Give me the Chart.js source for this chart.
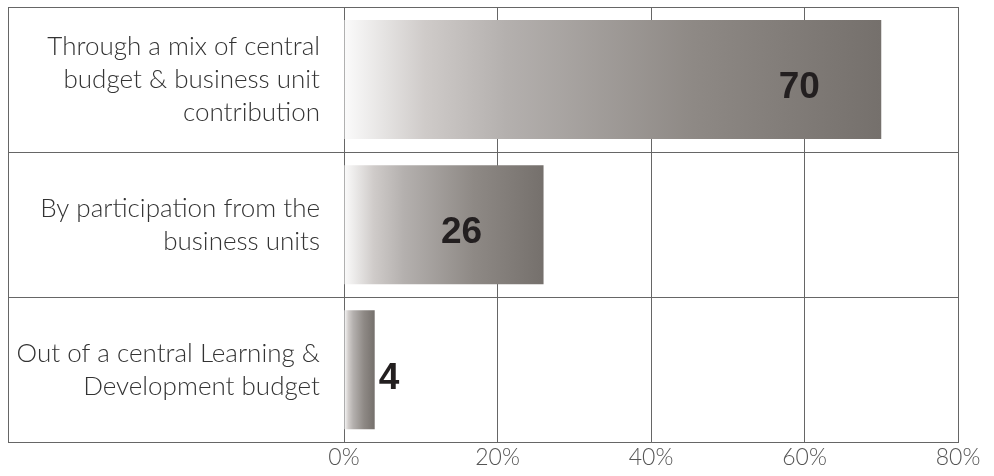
<!DOCTYPE html>
<html>
<head>
<meta charset="utf-8">
<script src="https://cdn.jsdelivr.net/npm/chart.js@4/dist/chart.umd.min.js"></script>
<style>
  html, body { margin: 0; padding: 0; background: #fff; }
  #wrap { width: 994px; height: 476px; }
</style>
</head>
<body>
<div id="wrap"><canvas id="funding"></canvas></div>
<script>

// categories (multi-line labels) and their shares in percent
const categories = [
    ['Through a mix of central', 'budget & business unit', 'contribution'],
    ['By participation from the', 'business units'],
    ['Out of a central Learning &', 'Development budget']
];
const shares = [70, 26, 4];
const axisMax = 80;
const axisStep = 20;

Chart.defaults.font.family = "Lato, 'Liberation Sans', Arial, sans-serif";

// grey fade from the zero line to the end of each bar
const barFill = (context) => {
    const chart = context.chart;
    if (!chart.chartArea || !chart.scales.x) return '#8e8985';
    const x = chart.scales.x;
    const x0 = x.getPixelForValue(0);
    const x1 = x.getPixelForValue(shares[context.dataIndex]);
    const g = chart.ctx.createLinearGradient(x0, 0, x1, 0);
    g.addColorStop(0, '#fbfbfb');
    g.addColorStop(0.15, '#cfcbc9');
    g.addColorStop(0.3, '#b4b0ae');
    g.addColorStop(0.65, '#8e8985');
    g.addColorStop(1, '#75706c');
    return g;
};

// frame edge on the left of the label column
const framePlugin = {
    id: 'frame',
    afterDraw(chart) {
        const { ctx, chartArea, scales } = chart;
        ctx.save();
        ctx.strokeStyle = '#666';
        ctx.lineWidth = 1;
        ctx.beginPath();
        ctx.moveTo(scales.y.left + 0.5, chartArea.top);
        ctx.lineTo(scales.y.left + 0.5, chartArea.bottom);
        ctx.stroke();
        ctx.restore();
    }
};

// the number sits 8 points short of the bar end, or just past it if the bar is too short
const valuePlugin = {
    id: 'values',
    afterDatasetsDraw(chart) {
        const { ctx } = chart;
        const xScale = chart.scales.x;
        const meta = chart.getDatasetMeta(0);
        ctx.save();
        ctx.font = "bold 37px 'Liberation Sans', Arial, sans-serif";
        ctx.fillStyle = '#231f20';
        ctx.textBaseline = 'middle';
        meta.data.forEach((bar, i) => {
            const v = shares[i];
            if (v > 8) {
                ctx.textAlign = 'right';
                ctx.fillText(String(v), xScale.getPixelForValue(v - 8), bar.y + 8);
            } else {
                ctx.textAlign = 'left';
                ctx.fillText(String(v), bar.x + 4, bar.y + 9);
            }
        });
        ctx.restore();
    }
};

const ctx = document.getElementById('funding').getContext('2d');
const chart = new Chart(ctx, {
    type: 'bar',
    data: {
        labels: categories,
        datasets: [{
            data: shares,
            backgroundColor: barFill,
            borderWidth: 0,
            barPercentage: 0.82,
            categoryPercentage: 1
        }]
    },
    options: {
        indexAxis: 'y',
        responsive: true,
        maintainAspectRatio: false,
        animation: false,
        layout: {
            padding: { left: 8, right: 36, top: 7, bottom: 4 }
        },
        scales: {
            x: {
                min: 0,
                max: axisMax,
                grid: {
                    color: '#666',
                    drawTicks: false
                },
                border: { color: '#666' },
                ticks: {
                    stepSize: axisStep,
                    padding: 1,
                    color: '#555',
                    font: { size: 23, weight: 300 },
                    callback: (v) => v + '%'
                }
            },
            y: {
                grid: {
                    offset: true,
                    color: '#666',
                    tickLength: 336,
                    tickColor: '#666'
                },
                border: { color: '#666' },
                ticks: {
                    padding: -312,
                    color: '#333',
                    font: { size: 26, weight: 300, lineHeight: 1.27 }
                },
                afterFit: (scale) => { scale.width = 336; }
            }
        },
        plugins: {
            legend: { display: false },
            tooltip: { enabled: false }
        }
    },
    plugins: [framePlugin, valuePlugin]
});

</script>
</body>
</html>
